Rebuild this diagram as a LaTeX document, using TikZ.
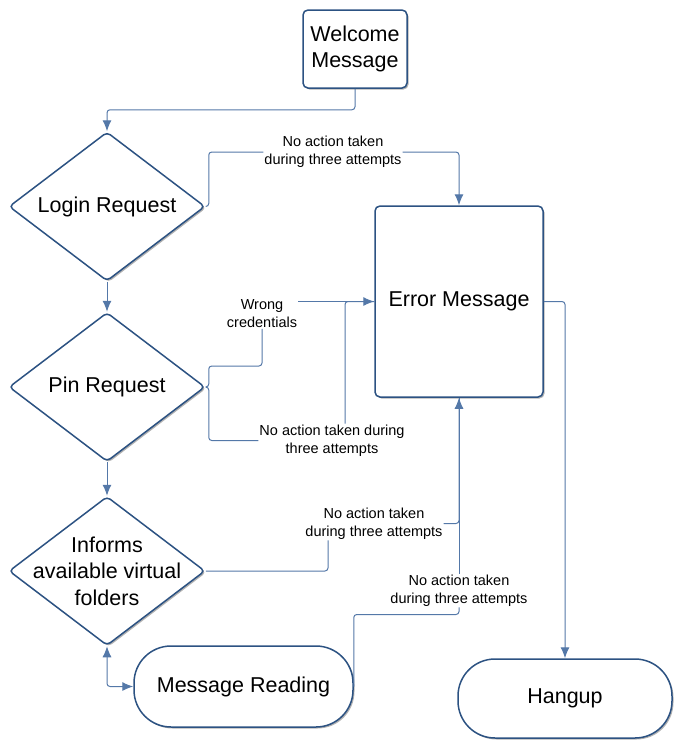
\documentclass[tikz,border=0pt]{standalone}
\usepackage{fontspec}
\setmainfont{Liberation Sans}
\usetikzlibrary{arrows.meta,calc,shapes,shadows}
\definecolor{boxblue}{RGB}{44,82,130}
\definecolor{lineblue}{RGB}{84,120,168}
\tikzset{>={Latex[length=11pt,width=9pt]}}
\newcommand{\bigtext}{\fontsize{21.5}{26.5}\selectfont}
\newcommand{\smalltext}{\fontsize{14.5}{18}\selectfont}
\tikzstyle{boxshadow}=[drop shadow={shadow xshift=1.5pt,shadow yshift=-1.5pt,opacity=0.3,fill=black}]
\tikzstyle{process}=[rectangle,draw=boxblue,fill=white,line width=1.5pt,rounded corners=5pt,boxshadow,font=\bigtext,align=center,inner sep=0pt]
\tikzstyle{decision}=[diamond,draw=boxblue,fill=white,line width=1.5pt,rounded corners=4pt,boxshadow,inner sep=0pt,minimum width=196pt,minimum height=149pt]
\tikzstyle{terminal}=[rectangle,draw=boxblue,fill=white,line width=1.5pt,rounded corners=37pt,boxshadow,font=\bigtext,inner sep=0pt]
\tikzstyle{conn}=[draw=lineblue,line width=1pt,rounded corners=3pt]
\tikzstyle{note}=[font=\smalltext,align=center,inner sep=1pt]

\begin{document}
\begin{tikzpicture}[x=1pt,y=-1pt]
	\useasboundingbox (0,0) rectangle (673,740);
	
	\node[process, minimum width=104pt, minimum height=78pt] (welcome) at (355, 49) {Welcome\\Message};
	\node[decision, label={[font=\bigtext]center:Login Request}] (login) at (107, 206.5) {};
	\node[decision, label={[font=\bigtext]center:Pin Request}] (pin) at (107, 387) {};
	\node[decision, label={[font=\bigtext,align=center]center:Informs\\available virtual\\folders}] (informs) at (107, 571) {};
	\node[process, minimum width=168pt, minimum height=191pt] (error) at (459, 301.5) {Error Message};
	\node[terminal, minimum width=219pt, minimum height=81pt] (reading) at (243.5, 686.5) {Message Reading};
	\node[terminal, minimum width=214pt, minimum height=79pt] (hangup) at (565, 698.5) {Hangup};
	
	\node[note] (nologin) at (333, 152) {No action taken\\during three attempts};
	\node[note] (wrong) at (262, 313.5) {Wrong\\credentials};
	\node[note] (nopin) at (332, 440.5) {No action taken during\\three attempts};
	\node[note] (noinfo) at (374, 523.5) {No action taken\\during three attempts};
	\node[note] (noread) at (459, 590.5) {No action taken\\during three attempts};
	
	\draw[conn,->] (welcome.south) -- ++(0,21) -| (login.north);
	\draw[conn,->] (login.south) -- (pin.north);
	\draw[conn,->] (pin.south) -- (informs.north);
	\draw[conn,<->] (informs.south) |- (reading.west);
	
	\draw[conn] (login.east) -- ++(3,0) |- (nologin.west);
	\draw[conn,->] (nologin.east) -| (error.north);
	\draw[conn] (pin.east) -- ++(3,0) -- ++(0,-21) -| (wrong.south);
	\draw[conn,->] (wrong.east |- error.west) -- (error.west);
	\draw[conn] (pin.east) -- ++(3,0) |- (nopin.west);
	\draw[conn] ($(nopin.north)+(13,0)$) |- (error.west);
	\draw[conn] (informs.east) -| ($(noinfo.south)+(-46,0)$);
	\draw[conn,->] (noinfo.east) -| (error.south);
	\draw[conn] (reading.east) -- ++(0,-72) -| (noread.south);
	\draw[conn] (noread.north) -- (error.south);
	\draw[conn,->] (error.east) -| (hangup.north);
\end{tikzpicture}
\end{document}
